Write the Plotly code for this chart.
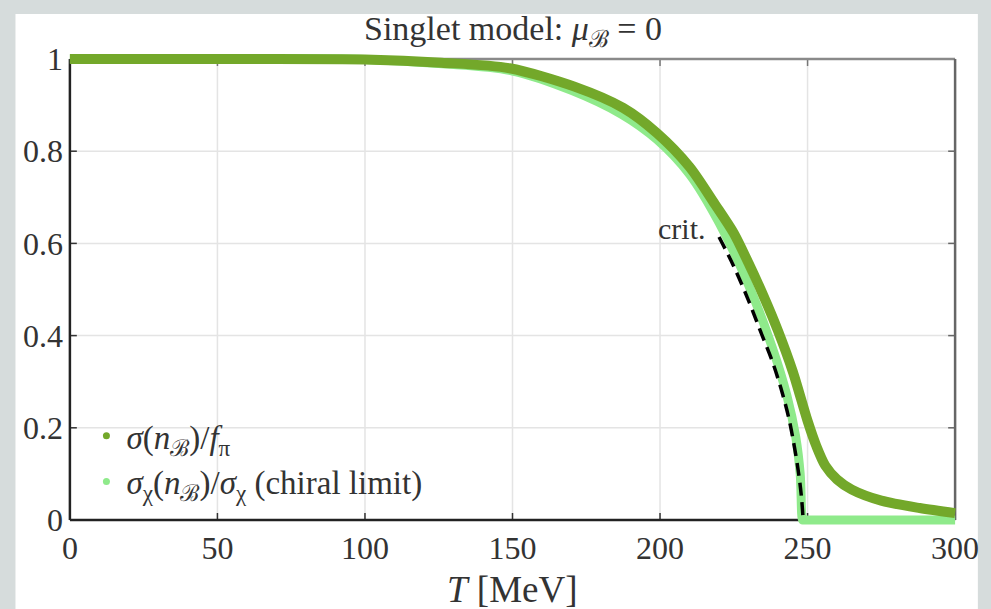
import plotly.graph_objects as go

# ---- data ----
T_sigma = [0, 50, 100, 126, 149, 171, 187.5, 199, 210, 218.6, 225, 230, 235, 240, 245, 250, 253, 256, 260, 265, 275, 288, 300]
v_sigma = [1, 1, 0.999, 0.992, 0.98, 0.94, 0.894, 0.839, 0.766, 0.685, 0.622, 0.557, 0.487, 0.41, 0.322, 0.215, 0.16, 0.118, 0.088, 0.066, 0.042, 0.026, 0.015]

T_chiral = [0, 50, 100, 125, 150, 170, 187, 199, 210, 220, 230, 238, 243, 246, 247.5, 248.3, 248.5, 260, 280, 300]
v_chiral = [1, 1, 0.999, 0.99, 0.974, 0.932, 0.88, 0.825, 0.75, 0.645, 0.51, 0.375, 0.27, 0.18, 0.1, 0.0, 0, 0, 0, 0]

T_crit = [220, 225, 230, 234, 238, 241, 243.5, 245.5, 247, 248, 248.5]
v_crit = [0.614, 0.55, 0.476, 0.41, 0.345, 0.285, 0.225, 0.16, 0.1, 0.045, 0.0]

x_ticks = [0, 50, 100, 150, 200, 250, 300]
y_ticks = [0, 0.2, 0.4, 0.6, 0.8, 1]
y_ticklabels = ["0", "0.2", "0.4", "0.6", "0.8", "1"]

title_text = "Singlet model: <i>μ</i><sub>ℬ</sub> = 0"
xlabel_text = "<i>T</i> [MeV]"
label_sigma = "<i>σ</i>(<i>n</i><sub>ℬ</sub>)/<i>f</i><sub>π</sub>"
label_chiral = "<i>σ</i><sub>χ</sub>(<i>n</i><sub>ℬ</sub>)/<i>σ</i><sub>χ</sub> (chiral limit)"
crit_text = "crit."

DARK = "#73a82a"
LIGHT = "#8fea8b"
FONT = "Liberation Serif"
TXT = "#333333"

x_min, x_max = 0, 300
y_min, y_max = 0, 1

fig = go.Figure()

fig.add_trace(go.Scatter(x=T_chiral, y=v_chiral, mode="lines", showlegend=False,
                         line=dict(color=LIGHT, width=9, shape="spline", smoothing=1.0)))
fig.add_trace(go.Scatter(x=T_sigma, y=v_sigma, mode="lines", showlegend=False,
                         line=dict(color=DARK, width=10, shape="spline", smoothing=0.8)))
fig.add_trace(go.Scatter(x=T_crit, y=v_crit, mode="lines", showlegend=False,
                         line=dict(color="black", width=3.5, dash="13px,7px", shape="spline", smoothing=1.0)))

# legend entries (dots)
fig.add_trace(go.Scatter(x=[None], y=[None], mode="markers", name=label_sigma,
                         marker=dict(color=DARK, size=7)))
fig.add_trace(go.Scatter(x=[None], y=[None], mode="markers", name=label_chiral,
                         marker=dict(color=LIGHT, size=7)))

shapes = []
# white panel
shapes.append(dict(type="rect", xref="paper", yref="paper", x0=-0.0541, x1=1.0188, y0=-0.25, y1=1.0825,
                   fillcolor="white", line=dict(width=0), layer="below"))
# grid lines
for xv in x_ticks[1:-1]:
    shapes.append(dict(type="line", xref="x", yref="y", x0=xv, x1=xv, y0=y_min, y1=y_max,
                       line=dict(color="#e4e4e4", width=1.5), layer="below"))
for yv in y_ticks[1:-1]:
    shapes.append(dict(type="line", xref="x", yref="y", x0=x_min, x1=x_max, y0=yv, y1=yv,
                       line=dict(color="#e4e4e4", width=1.5), layer="below"))
# tick marks
tlx = 7 / 2.98
tly = 7 / 461
for xv in x_ticks[1:-1]:
    shapes.append(dict(type="line", xref="x", yref="y", x0=xv, x1=xv, y0=y_min, y1=y_min + tly,
                       line=dict(color="#333333", width=1.5), layer="below"))
    shapes.append(dict(type="line", xref="x", yref="y", x0=xv, x1=xv, y0=y_max, y1=y_max - tly,
                       line=dict(color="#777777", width=1.5), layer="below"))
for yv in y_ticks[1:-1]:
    shapes.append(dict(type="line", xref="x", yref="y", x0=x_min, x1=x_min + tlx, y0=yv, y1=yv,
                       line=dict(color="#333333", width=1.5), layer="below"))
    shapes.append(dict(type="line", xref="x", yref="y", x0=x_max, x1=x_max - tlx, y0=yv, y1=yv,
                       line=dict(color="#666666", width=1.5), layer="below"))
# axis box
shapes.append(dict(type="line", xref="x", yref="y", x0=x_min, x1=x_max, y0=y_max, y1=y_max,
                   line=dict(color="#8a8a8a", width=2.5), layer="below"))
shapes.append(dict(type="line", xref="x", yref="y", x0=x_max, x1=x_max, y0=y_min, y1=y_max,
                   line=dict(color="#666666", width=2.5), layer="below"))
shapes.append(dict(type="line", xref="x", yref="y", x0=x_min, x1=x_max, y0=y_min, y1=y_min,
                   line=dict(color="#222222", width=2.5), layer="below"))
shapes.append(dict(type="line", xref="x", yref="y", x0=x_min, x1=x_min, y0=y_min, y1=y_max,
                   line=dict(color="#222222", width=2.5), layer="below"))

annotations = [
    dict(text=title_text, xref="paper", yref="paper", x=0.5, y=1.0465, xanchor="center", yanchor="middle",
         showarrow=False, font=dict(family=FONT, size=34, color=TXT)),
    dict(text=xlabel_text, xref="paper", yref="paper", x=0.5, y=-0.135, xanchor="center", yanchor="middle",
         showarrow=False, font=dict(family=FONT, size=37, color=TXT)),
    dict(text=crit_text, xref="x", yref="y", x=216, y=0.633, xanchor="right", yanchor="middle",
         showarrow=False, font=dict(family=FONT, size=30, color=TXT)),
]

fig.update_layout(
    width=991, height=609,
    margin=dict(l=64, r=21, t=53, b=83, pad=0),
    paper_bgcolor="#d6dcdc",
    plot_bgcolor="white",
    shapes=shapes,
    annotations=annotations,
    showlegend=True,
    legend=dict(x=0.025, y=0.25, xanchor="left", yanchor="top", bgcolor="rgba(0,0,0,0)",
                font=dict(family=FONT, size=33, color=TXT), itemwidth=30, tracegroupgap=0),
    xaxis=dict(range=[-2, 302], tickmode="array", tickvals=x_ticks, ticks="", showgrid=False,
               zeroline=False, showline=False, tickfont=dict(family=FONT, size=32, color=TXT)),
    yaxis=dict(range=[-0.013, 1.013], tickmode="array", tickvals=y_ticks, ticktext=y_ticklabels,
               ticks="", showgrid=False, zeroline=False, showline=False,
               tickfont=dict(family=FONT, size=32, color=TXT)),
)

fig.write_html("out.html")
